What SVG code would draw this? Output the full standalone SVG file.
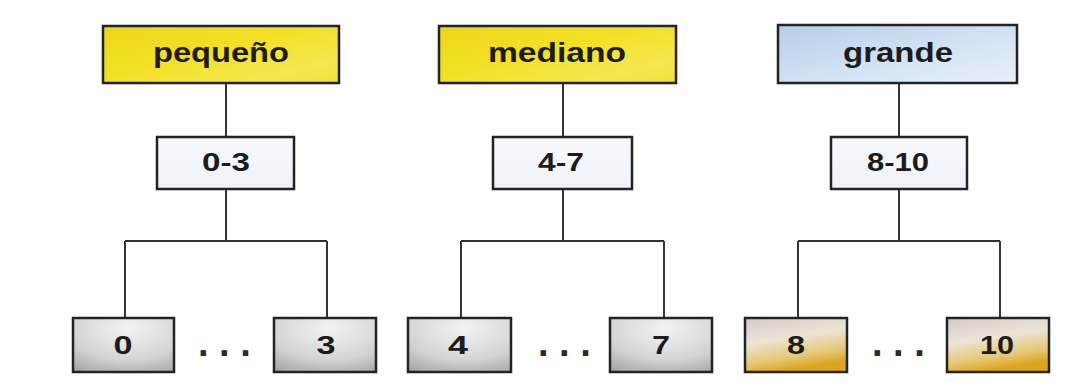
<svg xmlns="http://www.w3.org/2000/svg" width="1065" height="387" viewBox="0 0 1065 387">
  <defs>
    <linearGradient id="gYellow" x1="0" y1="0" x2="1" y2="1">
      <stop offset="0" stop-color="#ebd51c"/>
      <stop offset="0.45" stop-color="#f3e024"/>
      <stop offset="0.8" stop-color="#f5e854"/>
      <stop offset="1" stop-color="#f1e03c"/>
    </linearGradient>
    <linearGradient id="gBlue" x1="0" y1="0" x2="1" y2="1">
      <stop offset="0" stop-color="#b6cde8"/>
      <stop offset="0.55" stop-color="#d3e3f4"/>
      <stop offset="1" stop-color="#e8f1fa"/>
    </linearGradient>
    <linearGradient id="gWhite" x1="0" y1="0" x2="0" y2="1">
      <stop offset="0" stop-color="#f7f9fc"/>
      <stop offset="1" stop-color="#eef3f9"/>
    </linearGradient>
    <radialGradient id="gGray" cx="0.55" cy="0.2" r="0.95">
      <stop offset="0" stop-color="#f3f3f3"/>
      <stop offset="0.6" stop-color="#d4d4d4"/>
      <stop offset="1" stop-color="#a2a2a2"/>
    </radialGradient>
    <linearGradient id="gGold" x1="0" y1="0" x2="0.3" y2="1">
      <stop offset="0" stop-color="#d2cdc6"/>
      <stop offset="0.45" stop-color="#ece4d4"/>
      <stop offset="0.8" stop-color="#e6c670"/>
      <stop offset="1" stop-color="#dca520"/>
    </linearGradient>
  </defs>
  <style>
    .box { stroke: #232323; stroke-width: 2.5; }
    .wire { stroke: #333333; stroke-width: 2; fill: none; }
    .lbl { font-family: "Liberation Sans", Arial, sans-serif; font-weight: bold; fill: #1c1c1c; text-anchor: middle; }
    .top { font-size: 27px; }
    .mid { font-size: 25px; }
    .leaf { font-size: 26px; }
    .dots { font-family: "Liberation Sans", Arial, sans-serif; font-weight: bold; font-size: 38px; fill: #2a2a2a; }
  </style>

  <rect width="1065" height="387" fill="#ffffff"/>

  <!-- connectors -->
  <g id="connectors">
    <path class="wire" d="M226 83 V137 M226 189 V241 M125 241 H327 M125 241 V318 M327 241 V318"/>
    <path class="wire" d="M563 83 V137 M563 189 V241 M461 241 H664 M461 241 V318 M664 241 V318"/>
    <path class="wire" d="M899 83 V137 M899 189 V241 M798 241 H1000 M798 241 V318 M1000 241 V318"/>
  </g>

  <!-- size categories -->
  <g id="pequeno">
    <rect class="box" x="103" y="26" width="236" height="57" fill="url(#gYellow)"/>
    <text class="lbl top" x="221" y="62" textLength="136" lengthAdjust="spacingAndGlyphs">pequeño</text>
  </g>
  <g id="mediano">
    <rect class="box" x="439" y="26" width="237" height="57" fill="url(#gYellow)"/>
    <text class="lbl top" x="557" y="62" textLength="138" lengthAdjust="spacingAndGlyphs">mediano</text>
  </g>
  <g id="grande">
    <rect class="box" x="778" y="25" width="239" height="58" fill="url(#gBlue)"/>
    <text class="lbl top" x="898" y="62" textLength="110" lengthAdjust="spacingAndGlyphs">grande</text>
  </g>

  <!-- ranges -->
  <g id="rango-0-3">
    <rect class="box" x="157" y="137" width="137" height="52" fill="url(#gWhite)"/>
    <text class="lbl mid" x="226" y="171" textLength="48" lengthAdjust="spacingAndGlyphs">0-3</text>
  </g>
  <g id="rango-4-7">
    <rect class="box" x="493" y="137" width="139" height="52" fill="url(#gWhite)"/>
    <text class="lbl mid" x="561" y="171" textLength="46" lengthAdjust="spacingAndGlyphs">4-7</text>
  </g>
  <g id="rango-8-10">
    <rect class="box" x="831" y="137" width="136" height="52" fill="url(#gWhite)"/>
    <text class="lbl mid" x="898" y="171" textLength="62" lengthAdjust="spacingAndGlyphs">8-10</text>
  </g>

  <!-- values -->
  <g id="valor-0">
    <rect class="box" x="73" y="318" width="101" height="54" fill="url(#gGray)"/>
    <text class="lbl leaf" x="123" y="354" textLength="19" lengthAdjust="spacingAndGlyphs">0</text>
  </g>
  <g id="valor-3">
    <rect class="box" x="274" y="318" width="102" height="54" fill="url(#gGray)"/>
    <text class="lbl leaf" x="326" y="354" textLength="19" lengthAdjust="spacingAndGlyphs">3</text>
  </g>
  <g id="valor-4">
    <rect class="box" x="408" y="318" width="103" height="54" fill="url(#gGray)"/>
    <text class="lbl leaf" x="458" y="354" textLength="20" lengthAdjust="spacingAndGlyphs">4</text>
  </g>
  <g id="valor-7">
    <rect class="box" x="610" y="318" width="102" height="54" fill="url(#gGray)"/>
    <text class="lbl leaf" x="661" y="354" textLength="18" lengthAdjust="spacingAndGlyphs">7</text>
  </g>
  <g id="valor-8">
    <rect class="box" x="745" y="318" width="102" height="54" fill="url(#gGold)"/>
    <text class="lbl leaf" x="796" y="354" textLength="18" lengthAdjust="spacingAndGlyphs">8</text>
  </g>
  <g id="valor-10">
    <rect class="box" x="947" y="318" width="102" height="54" fill="url(#gGold)"/>
    <text class="lbl leaf" x="997" y="354" textLength="34" lengthAdjust="spacingAndGlyphs">10</text>
  </g>

  <!-- ellipses between values -->
  <text class="dots" x="198" y="356">. . .</text>
  <text class="dots" x="538" y="356">. . .</text>
  <text class="dots" x="872" y="356">. . .</text>
</svg>
